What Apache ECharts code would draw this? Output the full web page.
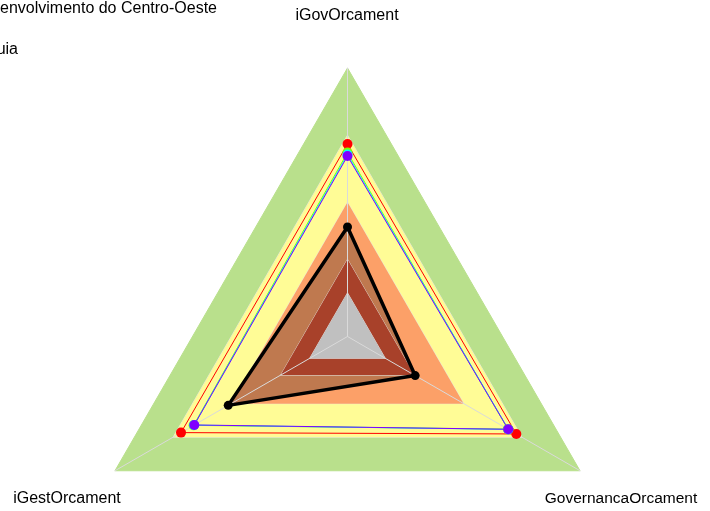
<!DOCTYPE html>
<html>
<head>
<meta charset="utf-8">
<script src="https://cdn.jsdelivr.net/npm/echarts@6/dist/echarts.min.js"></script>
<style>
  html, body { margin: 0; padding: 0; background: #fff; }
  #chart { width: 710px; height: 511px; }
</style>
</head>
<body>
<div id="chart"></div>
<script>
// eixos (ordem anti-horaria a partir do topo)
const indicadores = ['iGovOrcament', 'iGestOrcament', 'GovernancaOrcament'];

// faixas de fundo (limite externo de cada faixa), de fora para dentro
const faixasLimite = [1, 0.75, 0.5, 0.2875, 0.1625];
const faixasCor = ['#B9E08C', '#FFFC96', '#FCA068', '#A8412A', '#C0C0C0'];

// series
const nomes = ['Vermelho', 'Verde', 'Ciano', 'Roxo', 'Superintendência do Desenvolvimento do Centro-Oeste'];
const cores = ['#FF0000', '#80FF00', '#00FFFF', '#8000FF', '#000000'];
const valVermelho = [0.717, 0.716, 0.726];
const valVerde = [0.685, 0.662, 0.690];
const valCiano = [0.678, 0.660, 0.692];
const valRoxo = [0.672, 0.659, 0.691];
const valSudeco = [0.408, 0.513, 0.291];

// legenda (cortada na borda esquerda)
const legenda = ['Superintendência do Desenvolvimento do Centro-Oeste', 'Referência Guia'];

const chart = echarts.init(document.getElementById('chart'));

const indicator = indicadores.map(n => ({ name: n, min: 0, max: 1 }));
const fonte = '16px "Liberation Sans", Arial';

// faixa como serie poligonal (sem linha nem pontos)
function faixa(limite, cor, z2) {
    return {
        type: 'radar',
        z: 2,
        z2: z2,
        silent: true,
        symbol: 'none',
        lineStyle: { color: z2 === 0 ? cor : 'rgba(228,228,228,0.9)', width: 1 },
        areaStyle: { color: cor, opacity: 1 },
        data: [{ value: indicadores.map(() => limite) }]
    };
}

const series = [];
faixasLimite.forEach((lim, i) => {
    if (i === 3) {
        // preenchimento da serie preta por cima da faixa laranja
        series.push({
            type: 'radar',
            z: 2,
            silent: true,
            symbol: 'none',
            lineStyle: { width: 0, opacity: 0 },
            areaStyle: { color: '#000000', opacity: 0.24 },
            data: [{ value: valSudeco }]
        });
    }
    series.push(faixa(lim, faixasCor[i], i));
});

[valVermelho, valVerde, valCiano, valRoxo].forEach((v, i) => {
    series.push({
        type: 'radar',
        z: 4,
        symbol: 'circle',
        symbolSize: 10,
        lineStyle: { color: cores[i], width: 1 },
        itemStyle: { color: cores[i] },
        data: [{ name: nomes[i], value: v }]
    });
});

series.push({
    type: 'radar',
    z: 4,
    symbol: 'circle',
    symbolSize: 9,
    lineStyle: { color: cores[4], width: 3.5 },
    itemStyle: { color: cores[4] },
    data: [{ name: nomes[4], value: valSudeco }]
});

option = {
    animation: false,
    radar: {
        z: 3,
        center: [347.5, 336.5],
        radius: 268.5,
        startAngle: 90,
        shape: 'polygon',
        splitNumber: 4,
        indicator: indicator,
        axisName: { show: false },
        axisLine: { show: true, lineStyle: { color: '#DADADA', width: 1 } },
        splitLine: { show: false },
        splitArea: { show: false }
    },
    graphic: [
        { type: 'text', x: 347, y: 16, style: { text: indicadores[0], font: fonte, fill: '#000', textAlign: 'center', textVerticalAlign: 'middle' } },
        { type: 'text', x: 67, y: 499, style: { text: indicadores[1], font: fonte, fill: '#000', textAlign: 'center', textVerticalAlign: 'middle' } },
        { type: 'text', x: 621, y: 499, style: { text: indicadores[2], font: '15.5px "Liberation Sans", Arial', fill: '#000', textAlign: 'center', textVerticalAlign: 'middle' } },
        { type: 'text', x: 217, y: 9, style: { text: legenda[0], font: fonte, fill: '#000', textAlign: 'right', textVerticalAlign: 'middle' } },
        { type: 'text', x: 18, y: 50, style: { text: legenda[1], font: fonte, fill: '#000', textAlign: 'right', textVerticalAlign: 'middle' } }
    ],
    series: series
};

chart.setOption(option);
</script>
</body>
</html>
